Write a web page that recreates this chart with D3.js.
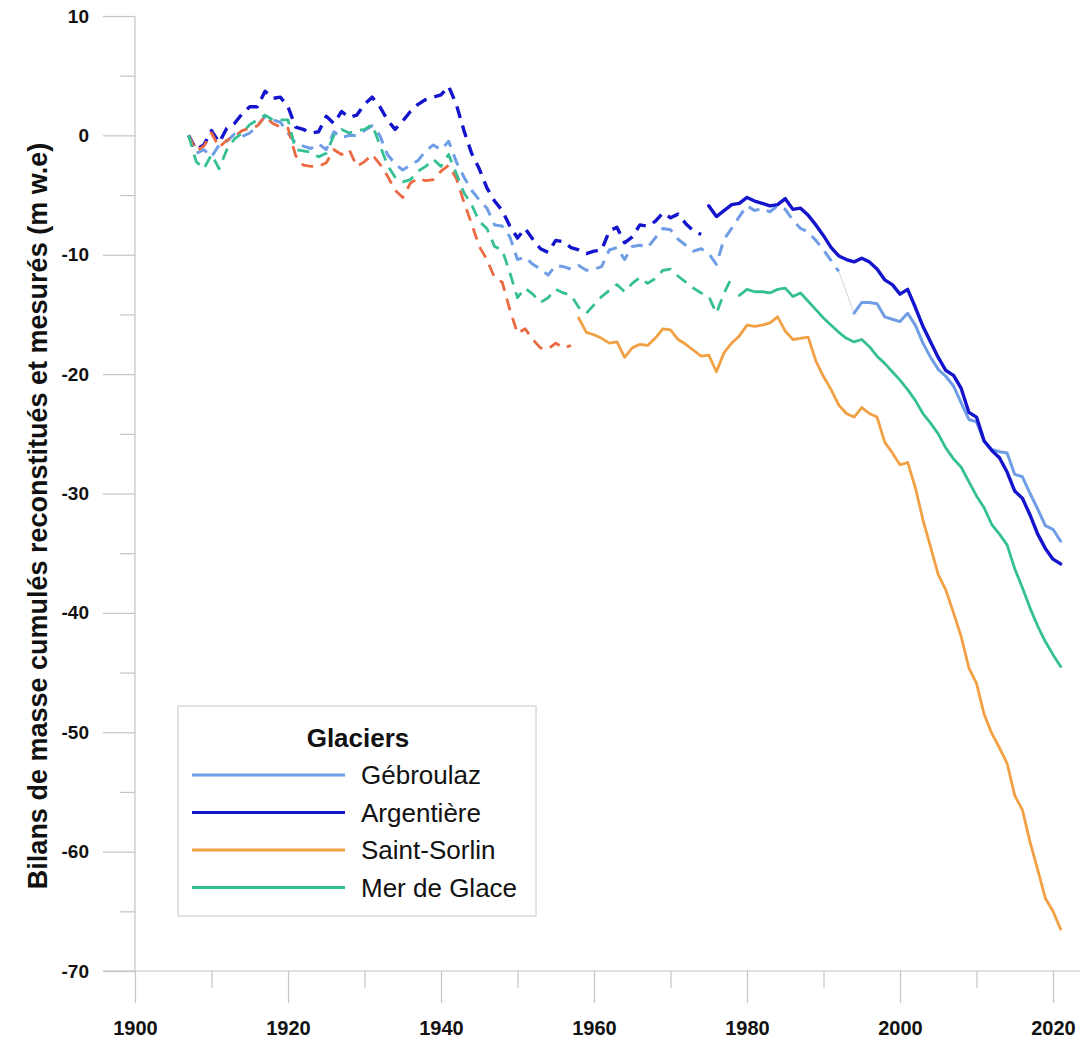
<!DOCTYPE html>
<html>
<head>
<meta charset="utf-8">
<script src="https://cdn.jsdelivr.net/npm/d3@7"></script>
<style>
  html, body { margin: 0; padding: 0; background: #ffffff; }
  svg { display: block; }
  text { font-family: "Liberation Sans", Arial, sans-serif; }
</style>
</head>
<body>
<svg id="chart" width="1089" height="1044"></svg>
<script>
// ---------- DATA ----------
const glaciers = ["Gébroulaz", "Argentière", "Saint-Sorlin", "Mer de Glace"];

// Reconstructed (dashed) series: start year + annual cumulative values (m w.e.)
const gebroulazReconStart = 1907;
const gebroulazRecon = [0,-1.5,-1.2,-1.8,-0.8,-0.5,0.1,-0.1,0.2,0.8,1.6,1.3,1.1,0.2,-0.7,-0.9,-1.1,-0.7,-1.2,0.3,-0.2,0.0,0.0,0.4,0.8,0.0,-1.6,-2.4,-2.9,-2.5,-2.1,-1.3,-0.8,-1.2,-0.5,-2.2,-3.5,-4.6,-5.4,-6.1,-7.5,-7.6,-8.5,-10.4,-10.2,-10.8,-11.2,-11.7,-10.9,-11.0,-11.2,-10.9,-11.3,-11.2,-11.0,-9.6,-9.4,-10.4,-9.3,-9.2,-9.4,-8.6,-7.8,-7.9,-8.7,-9.2,-9.7,-9.5,-9.9,-10.8,-8.7,-7.8,-6.8,-5.9,-6.3,-6.1,-6.4,-5.9,-6.2,-7.1,-7.8,-8.1,-8.8,-9.6,-10.5,-11.4];
const argentiereReconStart = 1907;
const argentiereRecon = [0,-1.2,-0.8,0.4,-0.6,0.6,1.0,1.8,2.4,2.4,3.7,3.1,3.2,2.4,0.7,0.5,0.2,0.3,1.6,1.0,2.0,1.5,1.7,2.6,3.2,2.4,1.3,0.5,1.2,2.0,2.6,3.0,3.2,3.4,4.1,2.6,0.4,-1.5,-2.8,-4.4,-5.5,-6.3,-7.6,-8.6,-7.8,-8.7,-9.5,-9.8,-8.8,-8.9,-9.4,-9.6,-9.9,-9.7,-9.6,-8.0,-7.7,-9.0,-8.5,-7.5,-7.6,-7.2,-6.5,-6.9,-6.6,-7.4,-8.0,-8.3];
const saintSorlinReconStart = 1907;
const saintSorlinRecon = [0,-1.3,-0.9,0.2,-1.0,-0.4,-0.1,0.4,0.6,0.8,1.6,1.0,0.7,0.6,-1.7,-2.5,-2.6,-2.6,-2.3,-1.2,-1.6,-1.2,-2.6,-2.2,-1.6,-2.4,-3.4,-4.6,-5.2,-4.0,-3.6,-3.8,-3.7,-3.0,-2.5,-3.6,-5.6,-7.4,-9.3,-10.4,-11.9,-12.3,-14.6,-16.6,-16.2,-17.1,-17.8,-17.9,-17.4,-17.8,-17.6];
const merDeGlaceReconStart = 1907;
const merDeGlaceRecon = [0,-2.2,-2.8,-1.6,-2.8,-1.2,-0.3,0.2,0.9,1.3,1.7,1.3,1.3,1.3,-1.2,-1.3,-1.4,-1.8,-1.5,0.0,0.5,0.2,0.4,0.5,0.9,-0.8,-2.5,-3.5,-3.9,-3.7,-3.0,-2.6,-2.0,-2.6,-1.6,-3.2,-4.8,-5.8,-7.2,-7.8,-9.3,-9.6,-11.5,-13.6,-12.8,-13.3,-14.0,-13.6,-12.9,-13.2,-13.4,-14.4,-14.9,-14.2,-13.5,-13.0,-12.5,-13.1,-12.4,-11.9,-12.4,-12.0,-11.3,-11.2,-11.8,-12.3,-12.8,-13.2,-13.5,-14.9,-13.2,-11.9];

// Measured (solid) series
const gebroulazMeasStart = 1994;
const gebroulazMeas = [-14.9,-14.0,-14.0,-14.1,-15.2,-15.4,-15.6,-14.9,-15.9,-17.4,-18.6,-19.6,-20.2,-21.0,-22.4,-23.8,-24.0,-25.6,-26.3,-26.5,-26.6,-28.4,-28.6,-30.0,-31.3,-32.7,-33.0,-34.0];
const argentiereMeasStart = 1975;
const argentiereMeas = [-5.9,-6.8,-6.3,-5.8,-5.7,-5.2,-5.5,-5.7,-5.9,-5.8,-5.3,-6.2,-6.1,-6.7,-7.5,-8.4,-9.4,-10.1,-10.4,-10.6,-10.3,-10.6,-11.2,-12.1,-12.5,-13.3,-12.9,-14.4,-16.0,-17.3,-18.6,-19.7,-20.1,-21.2,-23.2,-23.6,-25.6,-26.4,-27.0,-28.2,-29.8,-30.4,-31.8,-33.4,-34.6,-35.5,-35.9];
const saintSorlinMeasStart = 1958;
const saintSorlinMeas = [-15.3,-16.5,-16.7,-17.0,-17.4,-17.3,-18.6,-17.8,-17.5,-17.6,-17.0,-16.2,-16.3,-17.1,-17.5,-18.0,-18.5,-18.4,-19.8,-18.2,-17.4,-16.8,-15.9,-16.0,-15.9,-15.7,-15.2,-16.4,-17.1,-17.0,-16.9,-18.9,-20.2,-21.3,-22.6,-23.3,-23.6,-22.8,-23.3,-23.6,-25.7,-26.6,-27.6,-27.4,-29.5,-32.2,-34.5,-36.8,-38.1,-40.0,-42.0,-44.6,-45.9,-48.5,-50.1,-51.3,-52.6,-55.3,-56.5,-59.2,-61.5,-63.9,-65.0,-66.5];
const merDeGlaceMeasStart = 1979;
const merDeGlaceMeas = [-13.4,-12.9,-13.1,-13.1,-13.2,-12.9,-12.8,-13.5,-13.2,-13.9,-14.6,-15.3,-15.9,-16.5,-17.0,-17.3,-17.1,-17.7,-18.5,-19.1,-19.8,-20.5,-21.3,-22.2,-23.3,-24.1,-25.0,-26.2,-27.1,-27.8,-29.0,-30.2,-31.2,-32.6,-33.4,-34.3,-36.3,-37.9,-39.6,-41.1,-42.4,-43.5,-44.5];

const xMajorTicks = [1900, 1920, 1940, 1960, 1980, 2000, 2020];
const xMinorTicks = [1910, 1930, 1950, 1970, 1990, 2010];
const yMajorTicks = [10, 0, -10, -20, -30, -40, -50, -60, -70];
const yMinorTicks = [5, -5, -15, -25, -35, -45, -55, -65];
const yAxisTitle = "Bilans de masse cumulés reconstitués et mesurés (m w.e)";
const legendTitle = "Glaciers";

// ---------- STYLE ----------
const colors = {
  "Gébroulaz":   { meas: "#6f9de6", recon: "#6f9de6", w: 3 },
  "Argentière":  { meas: "#1414cc", recon: "#1414cc", w: 3.4 },
  "Saint-Sorlin":{ meas: "#f2a044", recon: "#ec6a42", w: 2.8 },
  "Mer de Glace":{ meas: "#35bf95", recon: "#35bf95", w: 2.8 }
};
const axisColor = "#c4c4c4";
const fontFam = "'Liberation Sans', Arial, sans-serif";

const series = [
  { name: "Gébroulaz", rs: gebroulazReconStart, r: gebroulazRecon, ms: gebroulazMeasStart, m: gebroulazMeas, connector: true },
  { name: "Argentière", rs: argentiereReconStart, r: argentiereRecon, ms: argentiereMeasStart, m: argentiereMeas },
  { name: "Saint-Sorlin", rs: saintSorlinReconStart, r: saintSorlinRecon, ms: saintSorlinMeasStart, m: saintSorlinMeas },
  { name: "Mer de Glace", rs: merDeGlaceReconStart, r: merDeGlaceRecon, ms: merDeGlaceMeasStart, m: merDeGlaceMeas }
];

// ---------- CHART ----------
const svg = d3.select("#chart");
const x = d3.scaleLinear().domain([1900, 2020]).range([135, 1053]);
const y = d3.scaleLinear().domain([-70, 10]).range([971, 16]);

const gAxes = svg.append("g");
gAxes.append("line")
  .attr("x1", x(1900)).attr("x2", x(1900))
  .attr("y1", y(10)).attr("y2", y(-70))
  .attr("stroke", axisColor).attr("stroke-width", 1.2);
gAxes.append("line")
  .attr("x1", x(1900) - 32).attr("x2", x(2023.5))
  .attr("y1", y(-70)).attr("y2", y(-70))
  .attr("stroke", axisColor).attr("stroke-width", 1.2);

const fmt = d => String(d);

const yAxisMajor = d3.axisLeft(y).tickValues(yMajorTicks).tickSize(32).tickPadding(14).tickFormat(fmt);
const gy = svg.append("g").attr("transform", `translate(${x(1900)},0)`).call(yAxisMajor);
gy.select(".domain").remove();
gy.selectAll(".tick line").attr("stroke", axisColor).attr("stroke-width", 1.2);
gy.selectAll(".tick text").attr("fill", "#111").style("font-size", "19px").style("font-weight", "bold")
  .style("font-family", fontFam);

const yAxisMinor = d3.axisLeft(y).tickValues(yMinorTicks).tickSize(15).tickFormat("");
const gy2 = svg.append("g").attr("transform", `translate(${x(1900)},0)`).call(yAxisMinor);
gy2.select(".domain").remove();
gy2.selectAll(".tick line").attr("stroke", axisColor).attr("stroke-width", 1.2);

const xAxisMajor = d3.axisBottom(x).tickValues(xMajorTicks).tickSize(32).tickPadding(18).tickFormat(fmt);
const gx = svg.append("g").attr("transform", `translate(0,${y(-70)})`).call(xAxisMajor);
gx.select(".domain").remove();
gx.selectAll(".tick line").attr("stroke", axisColor).attr("stroke-width", 1.2);
gx.selectAll(".tick text").attr("fill", "#111").style("font-size", "20px").style("font-weight", "bold")
  .style("font-family", fontFam);

const xAxisMinor = d3.axisBottom(x).tickValues(xMinorTicks).tickSize(17).tickFormat("");
const gx2 = svg.append("g").attr("transform", `translate(0,${y(-70)})`).call(xAxisMinor);
gx2.select(".domain").remove();
gx2.selectAll(".tick line").attr("stroke", axisColor).attr("stroke-width", 1.2);

// Y axis title
svg.append("text")
  .attr("transform", `translate(47,516) rotate(-90)`)
  .attr("text-anchor", "middle")
  .style("font-size", "27px").style("font-weight", "bold").attr("fill", "#111")
  .text(yAxisTitle);

// Lines
const line = d3.line().x(d => x(d.year)).y(d => y(d.v));
const toPts = (start, arr) => arr.map((v, i) => ({ year: start + i, v }));

const gLines = svg.append("g");
series.forEach(s => {
  const c = colors[s.name];
  const rp = toPts(s.rs, s.r);
  const mp = toPts(s.ms, s.m);
  if (s.connector) {
    gLines.append("path")
      .datum([rp[rp.length - 1], mp[0]])
      .attr("d", line).attr("fill", "none")
      .attr("stroke", "#c8c8d0").attr("stroke-width", 0.8);
  }
  gLines.append("path")
    .datum(rp)
    .attr("d", line)
    .attr("fill", "none")
    .attr("stroke", c.recon)
    .attr("stroke-width", c.w)
    .attr("stroke-dasharray", "12,8")
    .attr("stroke-linejoin", "round");
});
series.forEach(s => {
  const c = colors[s.name];
  const mp = toPts(s.ms, s.m);
  gLines.append("path")
    .datum(mp)
    .attr("d", line)
    .attr("fill", "none")
    .attr("stroke", c.meas)
    .attr("stroke-width", c.w)
    .attr("stroke-linejoin", "round")
    .attr("stroke-linecap", "round");
});

// Legend
const lg = svg.append("g").attr("transform", "translate(178,706)");
lg.append("rect").attr("width", 358).attr("height", 210)
  .attr("fill", "#fff").attr("stroke", "#c8c8c8").attr("stroke-width", 1);
lg.append("text").attr("x", 180).attr("y", 41).attr("text-anchor", "middle")
  .style("font-size", "26px").style("font-weight", "bold").attr("fill", "#111")
  .text(legendTitle);
glaciers.forEach((g, i) => {
  const yy = 69 + i * 37.5;
  lg.append("line").attr("x1", 14).attr("x2", 167).attr("y1", yy).attr("y2", yy)
    .attr("stroke", colors[g].meas).attr("stroke-width", 3);
  lg.append("text").attr("x", 183).attr("y", yy + 9)
    .style("font-size", "26px").attr("fill", "#111").text(g);
});
</script>
</body>
</html>
